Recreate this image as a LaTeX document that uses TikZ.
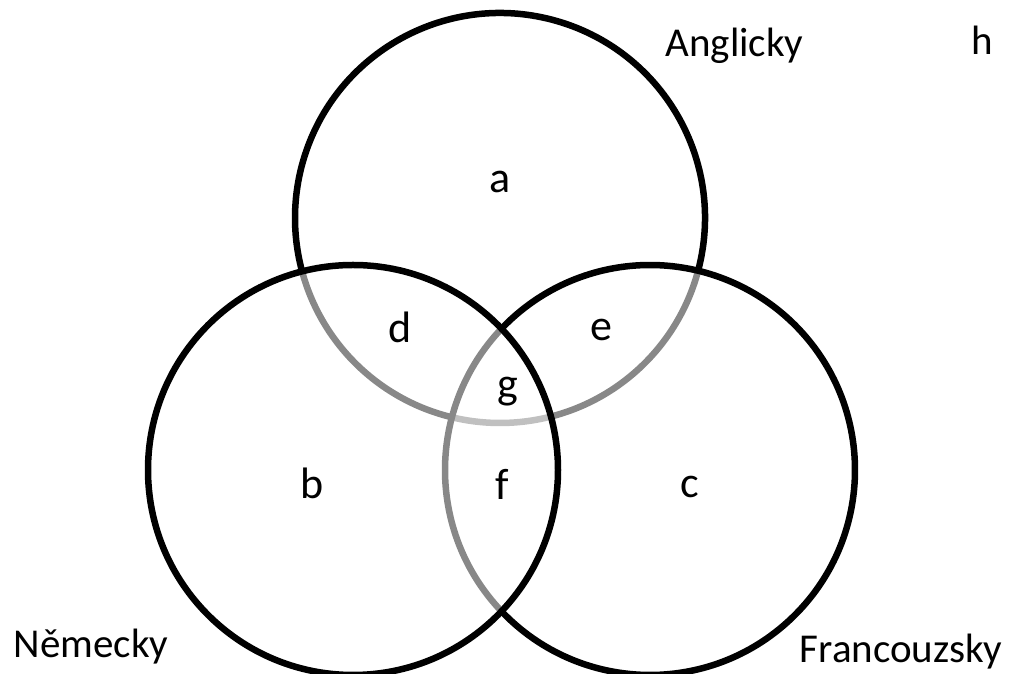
\documentclass[tikz,border=0pt]{standalone}
\usepackage{fontspec}
\setmainfont{Carlito}
\definecolor{darkarc}{RGB}{136,136,136}
\definecolor{lightarc}{RGB}{192,192,192}
\begin{document}
\begin{tikzpicture}[x=1pt,y=1pt,
  blackarc/.style={draw=black,line width=6.5pt},
  grayarc/.style={draw=darkarc,line width=6.5pt},
  paleacr/.style={draw=lightarc,line width=6.5pt},
  region/.style={anchor=base,inner sep=0pt,font=\fontsize{44}{44}\selectfont},
  setlabel/.style={anchor=base,inner sep=0pt,font=\fontsize{41}{41}\selectfont}]
\useasboundingbox (0,0) rectangle (1013,674);
\coordinate (T) at (500,456);
\coordinate (L) at (353,204);
\coordinate (R) at (650,204);
% gray arcs (parts lying inside another circle)
\draw[grayarc] (T) ++(195.1:205) arc[start angle=195.1,end angle=256.4,radius=205];
\draw[paleacr] (T) ++(256.4:205) arc[start angle=256.4,end angle=284.4,radius=205];
\draw[grayarc] (T) ++(284.4:205) arc[start angle=284.4,end angle=345.1,radius=205];
\draw[grayarc] (R) ++(136.4:205) arc[start angle=136.4,end angle=223.6,radius=205];
% black arcs
\draw[blackarc] (T) ++(-14.9:205) arc[start angle=-14.9,end angle=195.1,radius=205];
\draw[blackarc] (R) ++(223.6:205) arc[start angle=223.6,end angle=496.4,radius=205];
\draw[blackarc] (L) circle[radius=205];
% labels
\node[region] (a) at (500,481) {a};
\node[region] (b) at (312,175) {b};
\node[region] (c) at (690,176) {c};
\node[region] (d) at (400,331) {d};
\node[region] (e) at (601,333) {e};
\node[region] (f) at (502,174) {f};
\node[region] (g) at (508,275) {g};
\node[setlabel] (h) at (982,619) {h};
\node[setlabel] (en) at (734.5,617) {Anglicky};
\node[setlabel] (de) at (91,16) {Německy};
\node[setlabel] (fr) at (901,11) {Francouzsky};
\end{tikzpicture}
\end{document}
